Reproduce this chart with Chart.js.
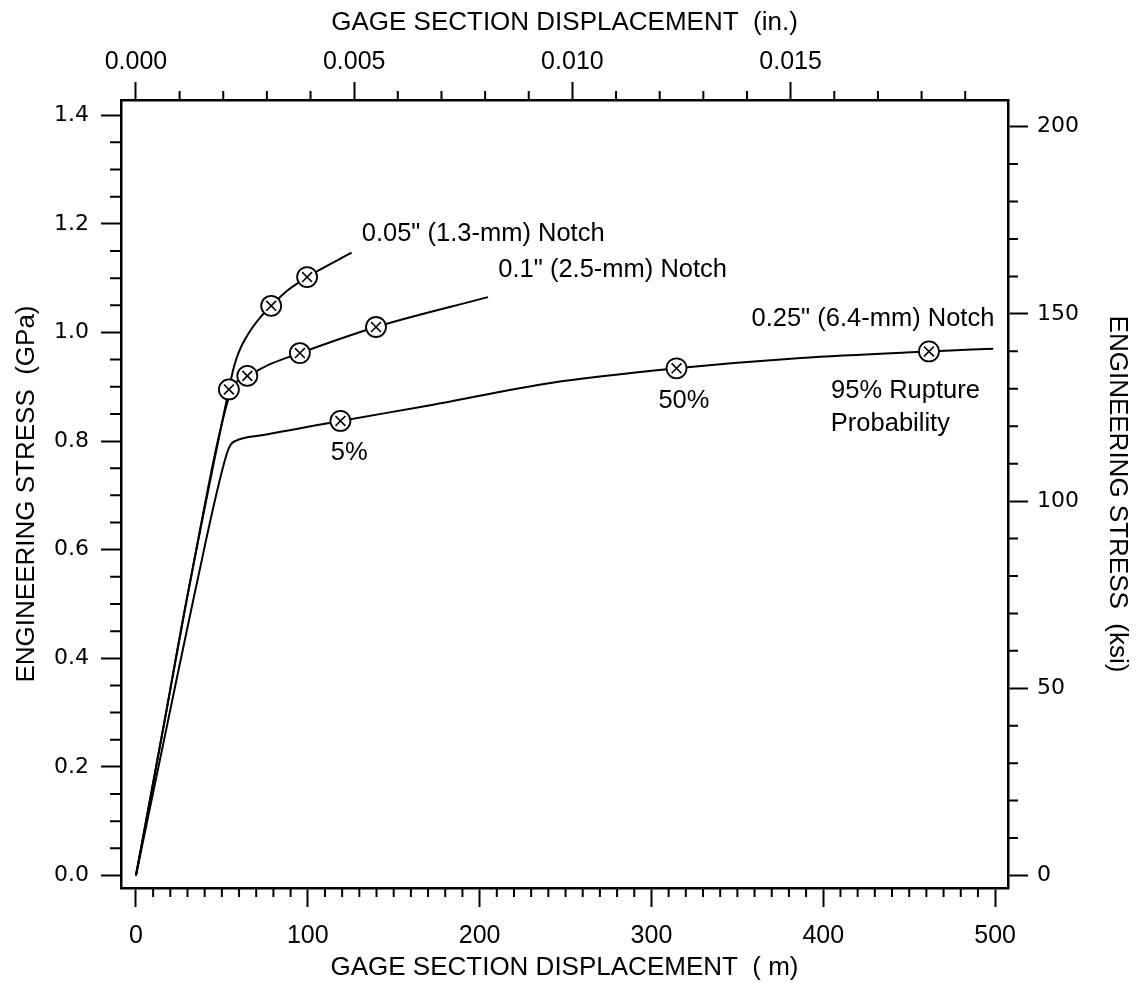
<!DOCTYPE html>
<html>
<head>
<meta charset="utf-8">
<script src="https://cdn.jsdelivr.net/npm/chart.js@4.4.1/dist/chart.umd.min.js"></script>
<style>
  html, body { margin: 0; padding: 0; background: #fff; }
  #wrap { width: 1136px; height: 983px; }
</style>
</head>
<body>
<div id="wrap"><canvas id="stressChart"></canvas></div>
<script>
// axis ranges (gage displacement in micrometres, stress in GPa)
const xMin = -8.7, xMax = 507.5;
const yMin = -0.023, yMax = 1.428;
const UM_PER_IN = 25400;
const KSI_PER_GPA = 145.038;

const xTicks = [0, 100, 200, 300, 400, 500];
const xLabels = ['0', '100', '200', '300', '400', '500'];
const x2Ticks = [0, 0.005, 0.010, 0.015];
const x2Labels = ['0.000', '0.005', '0.010', '0.015'];
const yTicks = [0, 0.2, 0.4, 0.6, 0.8, 1.0, 1.2, 1.4];
const yLabels = ['0.0', '0.2', '0.4', '0.6', '0.8', '1.0', '1.2', '1.4'];
const y2Ticks = [0, 50, 100, 150, 200];
const y2Labels = ['0', '50', '100', '150', '200'];

// curves
const notch005X = [0, 16.8, 29.9, 54.1, 56.5, 58.5, 61.0, 64.0, 68.0, 73.0, 78.7, 88.5, 99.6, 125.5];
const notch005Y = [0, 0.287, 0.514, 0.895, 0.930, 0.952, 0.972, 0.990, 1.010, 1.030, 1.049, 1.078, 1.102, 1.147];
const notch01X = [0, 16.8, 29.9, 56.0, 58.5, 61.5, 64.8, 78.4, 95.4, 139.7, 204.9];
const notch01Y = [0, 0.287, 0.514, 0.900, 0.909, 0.916, 0.920, 0.942, 0.962, 1.010, 1.065];
const notch025X = [0, 18.8, 33.8, 52.9, 55.3, 57.7, 74.2, 119.0, 171.4, 241.3, 314.6, 387.0, 461.5, 498.9];
const notch025Y = [0, 0.287, 0.514, 0.777, 0.794, 0.800, 0.811, 0.837, 0.866, 0.907, 0.934, 0.953, 0.965, 0.970];

// rupture probability markers (5%, 50%, 95%)
const markX = [54.1, 78.7, 99.6, 64.8, 95.4, 139.7, 119.0, 314.6, 461.5];
const markY = [0.895, 1.049, 1.102, 0.920, 0.962, 1.010, 0.837, 0.934, 0.965];

const notes = [
  { text: '0.05" (1.3-mm) Notch', x: 131.4, y: 1.182, align: 'left' },
  { text: '0.1" (2.5-mm) Notch', x: 210.9, y: 1.115, align: 'left' },
  { text: '0.25" (6.4-mm) Notch', x: 358.2, y: 1.024, align: 'left' },
  { text: '5%', x: 124.1, y: 0.778, align: 'center' },
  { text: '50%', x: 318.9, y: 0.874, align: 'center' },
  { text: '95% Rupture', x: 404.5, y: 0.893, align: 'left' },
  { text: 'Probability', x: 404.4, y: 0.832, align: 'left' }
];

const pts = (xs, ys) => xs.map((x, i) => ({ x, y: ys[i] }));

const SANS = "'Liberation Sans', Arial, sans-serif";
const DEJA = "'DejaVu Sans', sans-serif";

const curve = (data) => ({
  data, showLine: true, borderColor: '#000', borderWidth: 2,
  pointRadius: 0, tension: 0.4, cubicInterpolationMode: 'monotone'
});

const extras = {
  id: 'extras',
  afterDraw(chart) {
    const { ctx, scales } = chart;
    const { x, x2, y, y2 } = scales;
    ctx.save();
    ctx.strokeStyle = '#000';
    ctx.lineWidth = 2;
    ctx.beginPath();
    // minor ticks
    for (let k = 1; k < 51; k++) {
      if (k % 10 === 0) continue;
      const p = x.getPixelForValue(k * 10);
      ctx.moveTo(p, x.top); ctx.lineTo(p, x.top + 9);
    }
    for (let k = 1; k < 20; k++) {
      if (k % 5 === 0) continue;
      const p = x2.getPixelForValue(k * 0.001);
      ctx.moveTo(p, x2.bottom); ctx.lineTo(p, x2.bottom - 9);
    }
    for (let k = 1; k < 28; k++) {
      if (k % 4 === 0) continue;
      const p = y.getPixelForValue(k * 0.05);
      ctx.moveTo(y.right, p); ctx.lineTo(y.right - 11, p);
    }
    for (let k = 1; k < 20; k++) {
      if (k % 5 === 0) continue;
      const p = y2.getPixelForValue(k * 10);
      ctx.moveTo(y2.left, p); ctx.lineTo(y2.left + 10, p);
    }
    ctx.stroke();

    ctx.fillStyle = '#000';
    ctx.font = '25.5px ' + SANS;
    ctx.textBaseline = 'middle';
    notes.forEach(n => {
      ctx.textAlign = n.align;
      ctx.fillText(n.text, x.getPixelForValue(n.x), y.getPixelForValue(n.y));
    });
    ctx.restore();
  }
};

const fixedSize = (size) => (scale) => {
  if (scale.isHorizontal()) scale.height = size; else scale.width = size;
};

const axisGrid = (len) => ({
  display: true, drawOnChartArea: false, drawTicks: true,
  tickLength: len, tickWidth: 2, tickColor: '#000', color: '#000'
});
const axisBorder = { display: true, color: '#000', width: 2.5 };

new Chart(document.getElementById('stressChart'), {
  type: 'scatter',
  data: {
    datasets: [
      curve(pts(notch005X, notch005Y)),
      curve(pts(notch01X, notch01Y)),
      curve(pts(notch025X, notch025Y)),
      {
        data: pts(markX, markY), showLine: false, pointStyle: 'crossRot',
        pointRadius: 7, borderColor: '#000', borderWidth: 1.6, order: -2
      },
      {
        data: pts(markX, markY), showLine: false, pointStyle: 'circle',
        pointRadius: 10, borderColor: '#000', backgroundColor: '#fff',
        borderWidth: 1.8, order: -1
      }
    ]
  },
  options: {
    responsive: true,
    maintainAspectRatio: false,
    animation: false,
    layout: { padding: 0 },
    plugins: { legend: { display: false }, tooltip: { enabled: false } },
    scales: {
      x: {
        type: 'linear', position: 'bottom', min: xMin, max: xMax,
        afterBuildTicks: (s) => { s.ticks = xTicks.map(v => ({ value: v })); },
        afterFit: fixedSize(95),
        ticks: { autoSkip: false, maxRotation: 0, padding: 14, color: '#000',
                 font: { family: SANS, size: 25 },
                 callback: (v, i) => xLabels[i] },
        grid: axisGrid(19), border: axisBorder,
        title: { display: true, text: 'GAGE SECTION DISPLACEMENT  ( m)', color: '#000',
                 font: { family: SANS, size: 26 }, padding: { top: 0, bottom: 0 } }
      },
      x2: {
        type: 'linear', position: 'top', min: xMin / UM_PER_IN, max: xMax / UM_PER_IN,
        afterBuildTicks: (s) => { s.ticks = x2Ticks.map(v => ({ value: v })); },
        afterFit: fixedSize(100),
        ticks: { autoSkip: false, maxRotation: 0, padding: 5, color: '#000',
                 font: { family: SANS, size: 25 },
                 callback: (v, i) => x2Labels[i] },
        grid: axisGrid(18), border: axisBorder,
        title: { display: true, text: 'GAGE SECTION DISPLACEMENT  (in.)', color: '#000',
                 font: { family: SANS, size: 26 }, padding: { top: 7, bottom: 0 } }
      },
      y: {
        type: 'linear', position: 'left', min: yMin, max: yMax,
        afterBuildTicks: (s) => { s.ticks = yTicks.map(v => ({ value: v })); },
        afterFit: fixedSize(121),
        ticks: { autoSkip: false, padding: 12, color: '#000',
                 font: { family: DEJA, size: 22 },
                 callback: (v, i) => yLabels[i] },
        grid: axisGrid(20), border: axisBorder,
        title: { display: true, text: 'ENGINEERING STRESS  (GPa)', color: '#000',
                 font: { family: SANS, size: 26 }, padding: { top: 11, bottom: 0 } }
      },
      y2: {
        type: 'linear', position: 'right', min: yMin * KSI_PER_GPA, max: yMax * KSI_PER_GPA,
        afterBuildTicks: (s) => { s.ticks = y2Ticks.map(v => ({ value: v })); },
        afterFit: fixedSize(128),
        ticks: { autoSkip: false, padding: 9, color: '#000',
                 font: { family: DEJA, size: 22 },
                 callback: (v, i) => y2Labels[i] },
        grid: axisGrid(20), border: axisBorder,
        title: { display: true, text: 'ENGINEERING STRESS  (ksi)', color: '#000',
                 font: { family: SANS, size: 26 }, padding: { top: 3, bottom: 0 } }
      }
    }
  },
  plugins: [extras]
});
</script>
</body>
</html>
